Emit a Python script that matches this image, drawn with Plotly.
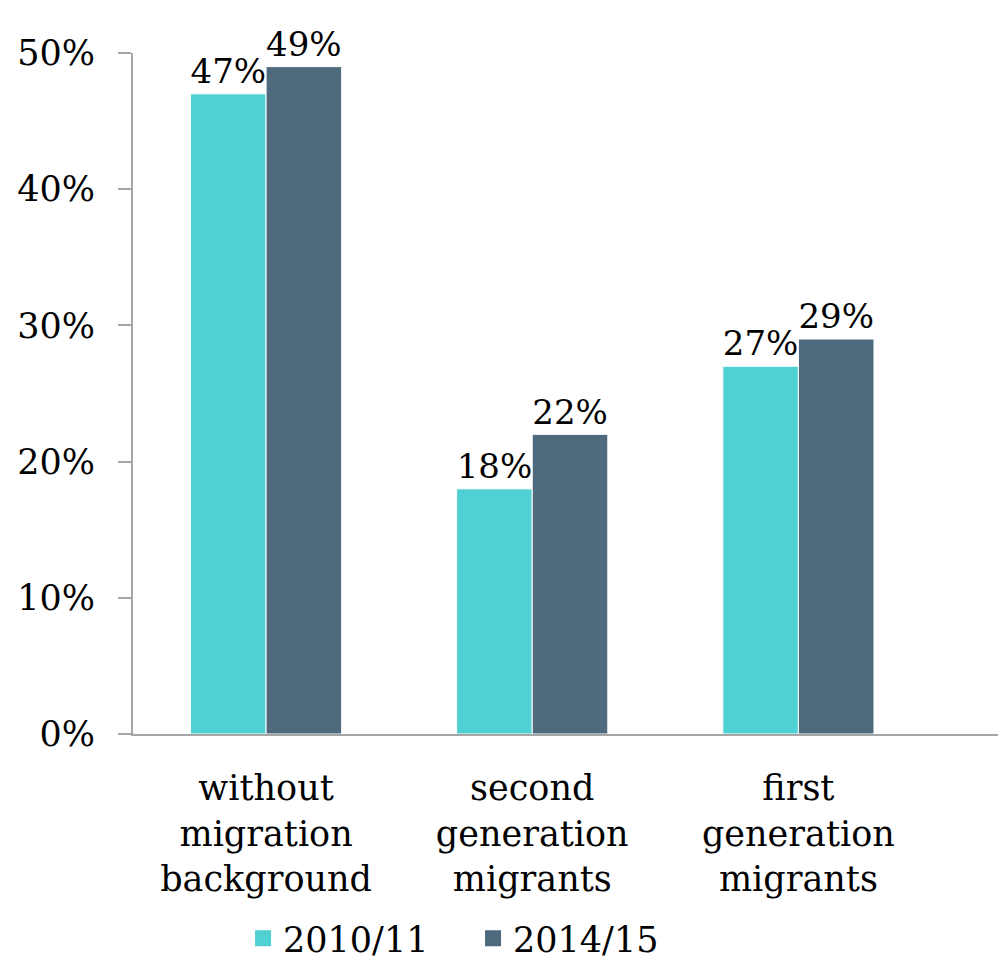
import plotly.graph_objects as go

# Share of pupils by migration status, two survey waves (percent)
categories = ["without<br>migration<br>background",
              "second<br>generation<br>migrants",
              "first<br>generation<br>migrants"]
wave_2010 = [47, 18, 27]
wave_2014 = [49, 22, 29]
series_names = ["2010/11", "2014/15"]
y_ticks = [0, 10, 20, 30, 40, 50]
y_tick_labels = [f"{v}%" for v in y_ticks]

FONT = "DejaVu Serif"
FS = 35
TEAL = "#4FD0D3"
SLATE = "#4E6A7C"
AXIS_GREY = "#A6A6A6"

fig = go.Figure()
for name, vals, col in [(series_names[0], wave_2010, TEAL),
                        (series_names[1], wave_2014, SLATE)]:
    fig.add_trace(go.Bar(
        x=categories, y=vals, name=name, legendgroup=name, showlegend=False,
        marker=dict(color=col, line=dict(color="white", width=1)),
        texttemplate="%{y:.0f}%", textposition="outside",
        textfont=dict(family=FONT, size=FS, color="black"),
        cliponaxis=False,
    ))
    # legend key: a plain filled square per series
    fig.add_trace(go.Scatter(
        x=[None], y=[None], mode="markers", name=name, legendgroup=name,
        marker=dict(symbol="square", size=20, color=col),
    ))

fig.update_layout(
    width=998, height=968,
    margin=dict(l=133, r=0, t=53, b=234, autoexpand=False),
    paper_bgcolor="white", plot_bgcolor="white",
    barmode="group", bargap=0.432, bargroupgap=0,
    font=dict(family=FONT, size=FS, color="black"),
    showlegend=True,
    legend=dict(orientation="h", xref="container", yref="container",
                x=0.474, y=-0.003, xanchor="center", yanchor="bottom",
                font=dict(family=FONT, size=FS, color="black"),
                itemwidth=30, tracegroupgap=0, itemsizing="trace",
                entrywidth=185, entrywidthmode="pixels"),
)
fig.update_xaxes(
    range=[-0.5, 2.75], showline=True, linecolor=AXIS_GREY, linewidth=2,
    ticks="", showgrid=False, ticklabelstandoff=22,
    tickfont=dict(family=FONT, size=FS, color="black"),
)
fig.update_yaxes(
    range=[0, 50], tickvals=y_ticks, ticktext=y_tick_labels,
    showline=True, linecolor=AXIS_GREY, linewidth=2,
    ticks="outside", ticklen=13, tickcolor=AXIS_GREY, tickwidth=2,
    showgrid=False, zeroline=False, ticklabelstandoff=16,
    tickfont=dict(family=FONT, size=FS, color="black"),
)

fig.write_html("out.html")
